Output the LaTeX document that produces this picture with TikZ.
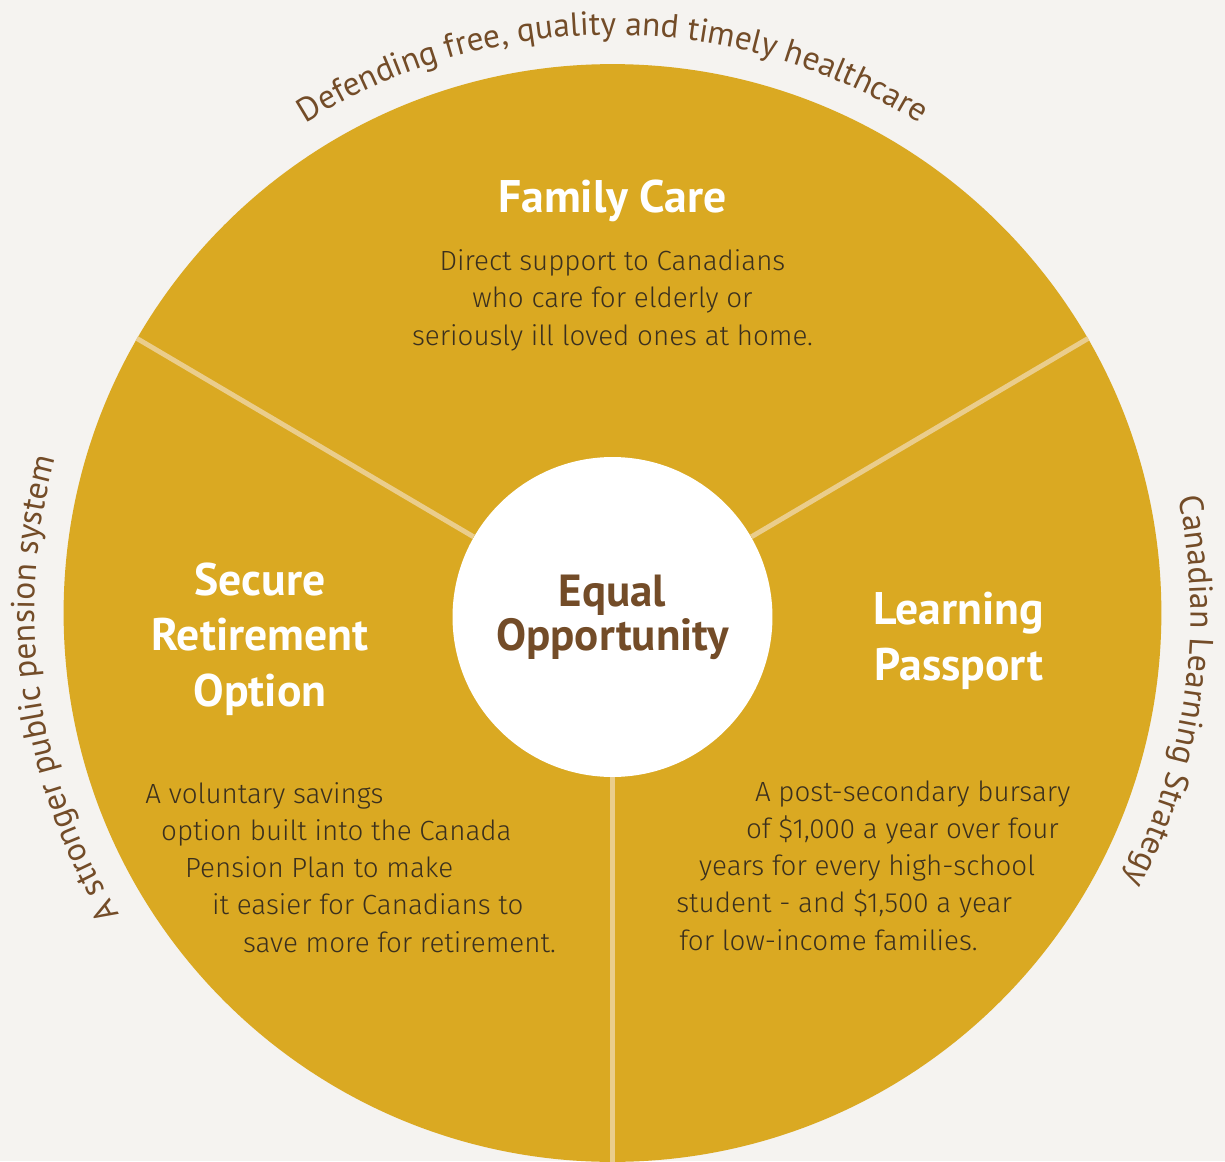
\documentclass[tikz,border=0pt]{standalone}
\usepackage{fontspec}
\setmainfont{PT Sans}
\newfontfamily\lightfont{Fira Sans Light}
\usetikzlibrary{decorations.text}
\definecolor{mygold}{RGB}{218,169,34}
\definecolor{mypale}{RGB}{234,205,140}
\definecolor{mybrown}{RGB}{115,76,40}
\definecolor{myink}{RGB}{59,48,30}
\definecolor{mypaper}{RGB}{245,243,240}
\newcommand\rimfont{\fontsize{19}{22}\selectfont}

\begin{document}
\begin{tikzpicture}[x=0.02cm,y=0.02cm]

\tikzstyle{wheel} = [circle, fill=mygold, minimum size=21.96cm, inner sep=0]
\tikzstyle{hub} = [circle, fill=white, minimum size=6.4cm, inner sep=0, text=mybrown,
font=\fontsize{25.6}{25}\selectfont\bfseries, align=center]
\tikzstyle{spoke} = [draw=mypale, line width=2.8pt]
\tikzstyle{title} = [text=white, font=\fontsize{26}{31.5}\selectfont\bfseries,
align=center, anchor=base, inner sep=0]
\tikzstyle{blurb} = [text=myink, font=\lightfont\fontsize{15.8}{21.2}\selectfont,
inner sep=0, anchor=base west, align=left]
\tikzstyle{rimtext} = [decorate, decoration={text along path, text align=center, text color=mybrown}]

\useasboundingbox (-612.5,-548) rectangle (612.5,613);
\fill[mypaper] (-612.5,-548) rectangle (612.5,613);

\node[wheel] (wheel) at (0,0) {};
\node[hub] (hub) at (0,-4) {Equal\\Opportunity};

\draw[spoke] (hub.150) -- (wheel.150);
\draw[spoke] (hub.30) -- (wheel.30);
\draw[spoke] (hub.270) -- (wheel.270);

\node[title] (care) at (0,401) {Family Care};
\node[blurb, anchor=base, align=center] (carenote) at (0,268) {Direct support to Canadians\\who care for elderly or\\seriously ill loved ones at home.};

\node[title] (retire) at (-352.5,-93) {Secure\\Retirement\\Option};
\node[blurb] (retirenote) at (-467.5,-339) {A voluntary savings\\
\hspace*{9pt}option built into the Canada\\
\hspace*{22.7pt}Pension Plan to make\\
\hspace*{38pt}it easier for Canadians to\\
\hspace*{55.6pt}save more for retirement.};

\node[title] (passport) at (346.5,-67) {Learning\\Passport};
\node[blurb] (passportnote) at (63.5,-337) {\hspace*{44.8pt}A post-secondary bursary\\
\hspace*{39.7pt}of \$1,000 a year over four\\
\hspace*{13pt}years for every high-school\\
student - and \$1,500 a year\\
\hspace*{1.7pt}for low-income families.};

\path[rimtext, decoration={text={|\rimfont|Defending free, quality and timely healthcare}}]
(122:578) arc[start angle=122, end angle=58, radius=578];
\path[rimtext, decoration={text={|\rimfont|A stronger public pension system}}]
(212:578) arc[start angle=212, end angle=164, radius=578];
\path[rimtext, decoration={text={|\rimfont|Canadian Learning Strategy}}]
(12:578) arc[start angle=12, end angle=-28, radius=578];

\end{tikzpicture}
\end{document}
